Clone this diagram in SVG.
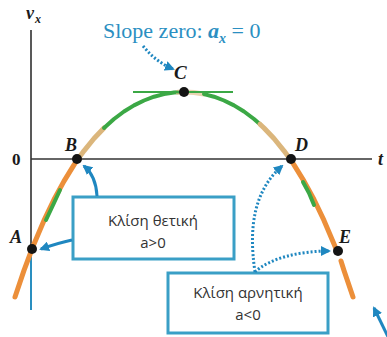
<svg xmlns="http://www.w3.org/2000/svg" width="387" height="337" viewBox="0 0 387 337">
<style>
.lbl{font-family:"Liberation Serif",serif;font-weight:bold;font-style:italic;fill:#1a1a1a}
.box rect{fill:#fff;stroke:#3a9fc6;stroke-width:3}
.box text{font-family:"Open Sans","Noto Sans",sans-serif;font-size:15px;fill:#333;text-anchor:middle}
.or{fill:none;stroke:#ec8f3a;stroke-width:5;stroke-linecap:round;stroke-linejoin:round}
.tan{fill:none;stroke:#dbb67c;stroke-width:5;stroke-linecap:round;stroke-linejoin:round}
.gr{fill:none;stroke:#3ba845;stroke-width:4;stroke-linecap:round;stroke-linejoin:round}
.pt{fill:#141414}
.arr{fill:none;stroke:#1f87c0;stroke-width:3}
.dot{fill:none;stroke:#1f87c0;stroke-width:3;stroke-dasharray:2 2}
</style>
<defs>
<marker id="ah" viewBox="0 0 10 10" refX="8" refY="5" markerWidth="10" markerHeight="10" markerUnits="userSpaceOnUse" orient="auto">
<path d="M0,0 L10,5 L0,10 z" fill="#1f87c0"/>
</marker>
</defs>
<rect width="387" height="337" fill="#fff"/>
<g id="axes">
<line x1="31" y1="30" x2="31" y2="249" stroke="#222" stroke-width="1.5"/>
<line x1="31" y1="249" x2="31" y2="310" stroke="#2a8fc0" stroke-width="2"/>
<line x1="31" y1="159" x2="372" y2="159" stroke="#333" stroke-width="1.3"/>
<text class="lbl" x="26" y="19" font-size="18">v</text>
<text class="lbl" x="35" y="23" font-size="12">x</text>
<text x="12" y="165" font-family="Liberation Serif,serif" font-weight="bold" font-size="17" fill="#1a1a1a">0</text>
<text class="lbl" x="378" y="165" font-size="18">t</text>
</g>
<g id="curve">
<path class="or" d="M15,297 L24,270.4 L32,249 L34,243.9 L44,220.4 L54,199.5 L64,181.1 L74,164.9 L77,160.4"/>
<path class="tan" d="M77,160.4 L84,150.8 L94,138.5 L104,128"/>
<path class="gr" stroke-width="2.5" d="M46,220 L54,203 L60,190"/>
<path class="gr" d="M104,128 L114,119 L124,111.5 L134,105.4 L144,100.5 L154,96.7 L164,94.1 L174,92.5 L178,92.2"/>
<path class="tan" stroke-width="4" opacity="0.6" d="M178,92.2 L184,92 L194,92.5 L204,94.1"/>
<path class="gr" d="M204,94.1 L214,96.7 L224,100.5 L234,105.4 L244,111.5 L254,119 L260,124.2"/>
<path class="tan" d="M260,124.2 L264,128 L274,138.5 L284,150.8 L291,160.4"/>
<path class="or" d="M291,160.4 L294,164.9 L304,181.1 L314,199.5 L324,220.4 L334,243.9 L337,251"/>
<path class="gr" stroke-width="2.5" d="M303,182 L309,193 L314,205"/>
<path class="or" d="M341,261 L344,270.4 L353,297"/>
<line x1="133" y1="92" x2="233" y2="92" stroke="#3ba845" stroke-width="2"/>
</g>
<g id="A"><circle class="pt" cx="32" cy="249" r="5"/><text class="lbl" x="10" y="243" font-size="18">A</text></g>
<g id="B"><circle class="pt" cx="77" cy="159" r="5"/><text class="lbl" x="65" y="151" font-size="18">B</text></g>
<g id="C"><circle class="pt" cx="184" cy="92" r="5"/><text class="lbl" x="174" y="79" font-size="19">C</text></g>
<g id="D"><circle class="pt" cx="291" cy="159" r="5"/><text class="lbl" x="295" y="151" font-size="18">D</text></g>
<g id="E"><circle class="pt" cx="338" cy="251" r="5"/><text class="lbl" x="339" y="243" font-size="18">E</text></g>
<g id="slope">
<text x="103" y="38" font-family="Liberation Serif,serif" font-size="22" fill="#2b8fc2">Slope zero: <tspan font-weight="bold" font-style="italic">a</tspan><tspan font-style="italic" font-weight="bold" font-size="14" dy="5">x</tspan><tspan dy="-5"> = 0</tspan></text>
</g>
<g id="box1" class="box">
<rect x="73" y="197" width="161" height="62"/>
<text x="153" y="226">Κλίση θετική</text>
<text x="153" y="248">a&gt;0</text>
</g>
<g id="box2" class="box">
<rect x="168" y="273" width="160" height="60"/>
<text x="248" y="298">Κλίση αρνητική</text>
<text x="248" y="320">a&lt;0</text>
</g>
<g id="connectors">
<path class="dot" stroke-width="2.5" d="M143,46 Q156,62 173,69" marker-end="url(#ah)"/>
<path class="arr" d="M97,196 Q96,176 84,166" marker-end="url(#ah)"/>
<path class="arr" d="M72,240 Q58,243 41,249" marker-end="url(#ah)"/>
<path class="dot" d="M255,272 C248,225 255,190 282,166" marker-end="url(#ah)"/>
<path class="dot" d="M255,272 C270,258 300,251 329,251" marker-end="url(#ah)"/>
<path class="arr" d="M392,345 L374,308" marker-end="url(#ah)"/>
</g>
</svg>
